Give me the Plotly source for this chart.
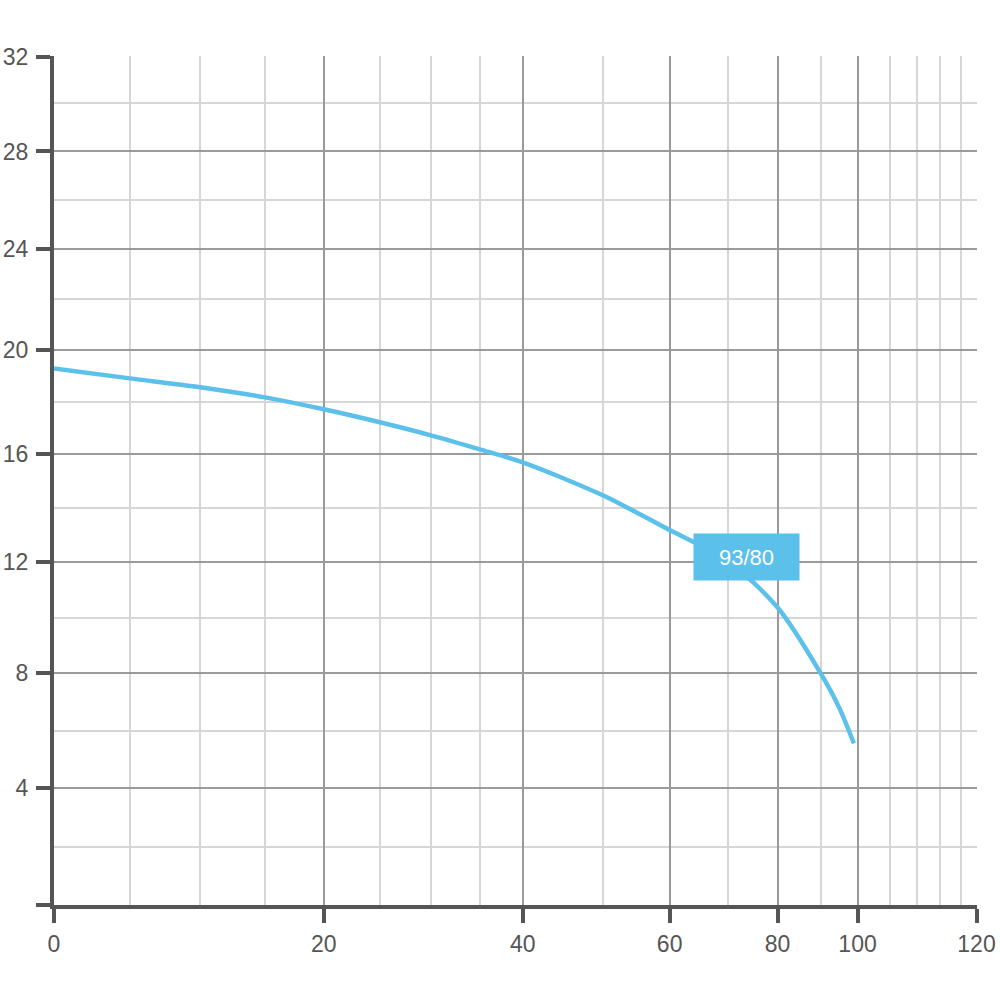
import numpy as np
import plotly.graph_objects as go

# ---- data (flow vs head) ----
flow = [0, 5, 10, 15, 20, 25, 30, 35, 40, 50, 60, 70, 80, 90, 95, 99]
head = [19.3, 18.92, 18.58, 18.19, 17.73, 17.23, 16.73, 16.19, 15.70,
        14.48, 13.19, 12.05, 10.38, 8.0, 6.82, 5.57]
curve_label = "93/80"
label_at = (73.8, 12.19)

x_major = [0, 20, 40, 60, 80, 100, 120]
x_labels = ["0", "20", "40", "60", "80", "100", "120"]
x_minor = [5, 10, 15, 25, 30, 35, 50, 70, 90, 104, 108, 112, 116]
y_major = [0, 4, 8, 12, 16, 20, 24, 28, 32]
y_labels = ["", "4", "8", "12", "16", "20", "24", "28", "32"]
y_minor = [2, 6, 10, 14, 18, 22, 26, 30]

# ---- non-uniform chart-paper scales (value -> axis position) ----
X_KNOT_VAL = [0, 5, 10, 15, 20, 25, 30, 35, 40, 50, 60, 70, 80, 90, 100,
              104, 108, 112, 116, 120]
X_KNOT_POS = [0, 76, 146, 211, 270, 326, 377, 426, 469, 549, 616, 674, 724,
              767, 804, 836, 863, 886, 907, 923]
Y_KNOT_VAL = [0, 2, 4, 6, 8, 10, 12, 14, 16, 18, 20, 22, 24, 26, 28, 30, 32]
Y_KNOT_POS = [0, 58, 117, 174, 232, 287, 343, 397, 451, 503, 555, 606, 656,
              705, 754, 802, 849]


def sx(v):
    return np.interp(v, X_KNOT_VAL, X_KNOT_POS)


def sy(v):
    return np.interp(v, Y_KNOT_VAL, Y_KNOT_POS)


LINE = "#5bc0ea"
AXIS = "#555555"
MAJ = "#9a9a9a"
MIN = "#d6d6d6"
FONT = dict(family="Liberation Sans, Arial, sans-serif", size=23, color="#555555")

fig = go.Figure()
fig.add_trace(go.Scatter(
    x=sx(flow), y=sy(head), mode="lines",
    line=dict(color=LINE, width=4.5, shape="spline", smoothing=0.8),
    hoverinfo="skip", showlegend=False,
))

fig.add_annotation(
    x=float(sx(label_at[0])), y=float(sy(label_at[1])), xref="x", yref="y",
    text=curve_label, showarrow=False, bgcolor=LINE,
    width=103, height=44,
    font=dict(family="Liberation Sans, Arial, sans-serif", size=22, color="white"),
)

fig.update_xaxes(
    range=[0, X_KNOT_POS[-1] + 0.5], automargin=False,
    tickmode="array", tickvals=list(sx(x_major)), ticktext=x_labels,
    showline=True, linewidth=4, linecolor=AXIS,
    ticks="outside", ticklen=14, tickwidth=4, tickcolor=AXIS,
    showgrid=True, gridcolor=MAJ, gridwidth=1.5,
    minor=dict(tickmode="array", tickvals=list(sx(x_minor)), showgrid=True,
               gridcolor=MIN, gridwidth=1.5, ticks="", ticklen=0),
    zeroline=False, tickfont=FONT, ticklabelstandoff=1,
)
fig.update_yaxes(
    range=[0, Y_KNOT_POS[-1] + 0.5], automargin=False,
    tickmode="array", tickvals=list(sy(y_major)), ticktext=y_labels,
    showline=True, linewidth=4, linecolor=AXIS,
    ticks="outside", ticklen=14, tickwidth=4, tickcolor=AXIS,
    showgrid=True, gridcolor=MAJ, gridwidth=1.5,
    minor=dict(tickmode="array", tickvals=list(sy(y_minor)), showgrid=True,
               gridcolor=MIN, gridwidth=1.5, ticks="", ticklen=0),
    zeroline=False, tickfont=FONT, ticklabelstandoff=3,
)

fig.update_layout(
    width=1000, height=1000,
    margin=dict(l=54, r=23, t=56, b=95),
    plot_bgcolor="white", paper_bgcolor="white",
    showlegend=False,
)

fig.write_html("out.html", config={"displayModeBar": False},
               post_script="document.body.style.margin='0';")
